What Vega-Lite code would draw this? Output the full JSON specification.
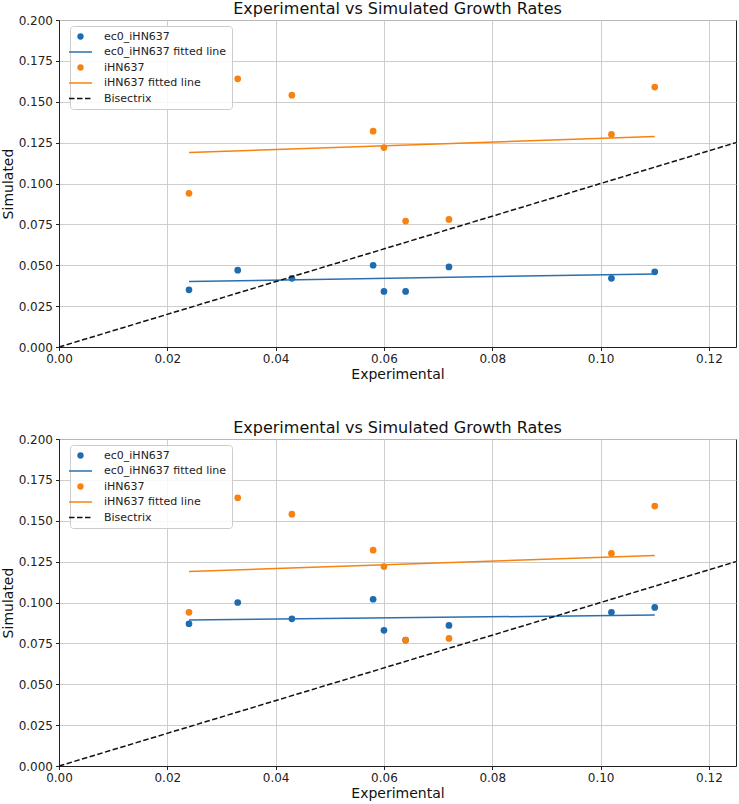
{
  "$schema": "https://vega.github.io/schema/vega-lite/v6.json",
  "padding": {"left": 0, "top": 0, "right": 2, "bottom": 0},
  "background": "white",
  "datasets": {
    "top_points": [
      {"exp": 0.024, "sim": 0.035, "series": "ec0_iHN637"},
      {"exp": 0.033, "sim": 0.047, "series": "ec0_iHN637"},
      {"exp": 0.043, "sim": 0.042, "series": "ec0_iHN637"},
      {"exp": 0.058, "sim": 0.050, "series": "ec0_iHN637"},
      {"exp": 0.060, "sim": 0.034, "series": "ec0_iHN637"},
      {"exp": 0.064, "sim": 0.034, "series": "ec0_iHN637"},
      {"exp": 0.072, "sim": 0.049, "series": "ec0_iHN637"},
      {"exp": 0.102, "sim": 0.042, "series": "ec0_iHN637"},
      {"exp": 0.110, "sim": 0.046, "series": "ec0_iHN637"},
      {"exp": 0.024, "sim": 0.094, "series": "iHN637"},
      {"exp": 0.033, "sim": 0.164, "series": "iHN637"},
      {"exp": 0.043, "sim": 0.154, "series": "iHN637"},
      {"exp": 0.058, "sim": 0.132, "series": "iHN637"},
      {"exp": 0.060, "sim": 0.122, "series": "iHN637"},
      {"exp": 0.064, "sim": 0.077, "series": "iHN637"},
      {"exp": 0.072, "sim": 0.078, "series": "iHN637"},
      {"exp": 0.102, "sim": 0.130, "series": "iHN637"},
      {"exp": 0.110, "sim": 0.159, "series": "iHN637"}
    ],
    "top_lines": [
      {"exp": 0.024, "sim": 0.0400, "series": "ec0_iHN637 fitted line"},
      {"exp": 0.110, "sim": 0.0447, "series": "ec0_iHN637 fitted line"},
      {"exp": 0.024, "sim": 0.1190, "series": "iHN637 fitted line"},
      {"exp": 0.110, "sim": 0.1287, "series": "iHN637 fitted line"}
    ],
    "bottom_points": [
      {"exp": 0.024, "sim": 0.087, "series": "ec0_iHN637"},
      {"exp": 0.033, "sim": 0.100, "series": "ec0_iHN637"},
      {"exp": 0.043, "sim": 0.090, "series": "ec0_iHN637"},
      {"exp": 0.058, "sim": 0.102, "series": "ec0_iHN637"},
      {"exp": 0.060, "sim": 0.083, "series": "ec0_iHN637"},
      {"exp": 0.064, "sim": 0.077, "series": "ec0_iHN637"},
      {"exp": 0.072, "sim": 0.086, "series": "ec0_iHN637"},
      {"exp": 0.102, "sim": 0.094, "series": "ec0_iHN637"},
      {"exp": 0.110, "sim": 0.097, "series": "ec0_iHN637"},
      {"exp": 0.024, "sim": 0.094, "series": "iHN637"},
      {"exp": 0.033, "sim": 0.164, "series": "iHN637"},
      {"exp": 0.043, "sim": 0.154, "series": "iHN637"},
      {"exp": 0.058, "sim": 0.132, "series": "iHN637"},
      {"exp": 0.060, "sim": 0.122, "series": "iHN637"},
      {"exp": 0.064, "sim": 0.077, "series": "iHN637"},
      {"exp": 0.072, "sim": 0.078, "series": "iHN637"},
      {"exp": 0.102, "sim": 0.130, "series": "iHN637"},
      {"exp": 0.110, "sim": 0.159, "series": "iHN637"}
    ],
    "bottom_lines": [
      {"exp": 0.024, "sim": 0.0893, "series": "ec0_iHN637 fitted line"},
      {"exp": 0.110, "sim": 0.0923, "series": "ec0_iHN637 fitted line"},
      {"exp": 0.024, "sim": 0.1190, "series": "iHN637 fitted line"},
      {"exp": 0.110, "sim": 0.1287, "series": "iHN637 fitted line"}
    ],
    "bisectrix": [
      {"exp": 0, "sim": 0, "series": "Bisectrix"},
      {"exp": 0.125, "sim": 0.125, "series": "Bisectrix"}
    ]
  },
  "config": {
    "font": "DejaVu Sans",
    "view": {"stroke": "#222222", "strokeWidth": 1},
    "title": {"fontSize": 16, "fontWeight": "normal", "color": "#111111", "offset": -3},
    "axis": {
      "labelFontSize": 12,
      "titleFontSize": 14,
      "titleFontWeight": "normal",
      "labelColor": "#222222",
      "titleColor": "#111111",
      "tickColor": "#222222",
      "domainColor": "#222222",
      "tickSize": 3.5,
      "labelPadding": 3,
      "titlePadding": 3,
      "labelFlush": false,
      "gridColor": "#c8c8c8",
      "gridWidth": 0.9
    },
    "concat": {"spacing": 37}
  },
  "resolve": {"scale": {"color": "independent"}},
  "vconcat": [
    {
      "title": "Experimental vs Simulated Growth Rates",
      "width": 677,
      "height": 327,
      "encoding": {
        "x": {
          "field": "exp", "type": "quantitative", "title": "Experimental",
          "scale": {"domain": [0, 0.125], "nice": false},
          "axis": {"values": [0, 0.02, 0.04, 0.06, 0.08, 0.1, 0.12], "format": ".2f"}
        },
        "y": {
          "field": "sim", "type": "quantitative", "title": "Simulated",
          "scale": {"domain": [0, 0.2], "nice": false},
          "axis": {"values": [0, 0.025, 0.05, 0.075, 0.1, 0.125, 0.15, 0.175, 0.2], "format": ".3f"}
        },
        "color": {
          "field": "series", "type": "nominal",
          "scale": {
            "domain": ["ec0_iHN637", "ec0_iHN637 fitted line", "iHN637", "iHN637 fitted line", "Bisectrix"],
            "range": ["#1f6bb0", "#2a70b0", "#f7820f", "#f7820f", "#111111"]
          },
          "legend": {
            "title": null,
            "orient": "none",
            "legendX": 11,
            "legendY": 6,
            "padding": 5,
            "fillColor": "rgba(255,255,255,0.85)",
            "strokeColor": "#cccccc",
            "cornerRadius": 3,
            "labelFontSize": 11,
            "labelColor": "#222222",
            "rowPadding": 3.5,
            "symbolSize": 529,
            "labelOffset": 18,
            "encode": {
              "symbols": {
                "update": {
                  "shape": {"signal": "(datum.value == 'ec0_iHN637' || datum.value == 'iHN637') ? 'circle' : 'stroke'"},
                  "size": {"signal": "(datum.value == 'ec0_iHN637' || datum.value == 'iHN637') ? 40 : 529"},
                  "fill": {"signal": "datum.value == 'ec0_iHN637' ? '#1f6bb0' : (datum.value == 'iHN637' ? '#f7820f' : 'transparent')"},
                  "stroke": {"signal": "datum.value == 'Bisectrix' ? '#111111' : (datum.value == 'ec0_iHN637 fitted line' ? '#2a70b0' : '#f7820f')"},
                  "strokeWidth": {"signal": "(datum.value == 'ec0_iHN637' || datum.value == 'iHN637') ? 0 : 1.5"},
                  "strokeDash": [{"test": "datum.value == 'Bisectrix'", "value": [5.5, 2.5]}],
                  "opacity": {"value": 1}
                }
              }
            }
          }
        }
      },
      "layer": [
        {
          "data": {"name": "top_points"},
          "mark": {"type": "circle", "size": 45, "opacity": 1}
        },
        {
          "data": {"name": "top_lines"},
          "mark": {"type": "line", "strokeWidth": 1.5}
        },
        {
          "data": {"name": "bisectrix"},
          "mark": {"type": "line", "strokeDash": [5.5, 2.5], "strokeWidth": 1.5}
        }
      ]
    },
    {
      "title": "Experimental vs Simulated Growth Rates",
      "width": 677,
      "height": 327,
      "encoding": {
        "x": {
          "field": "exp", "type": "quantitative", "title": "Experimental",
          "scale": {"domain": [0, 0.125], "nice": false},
          "axis": {"values": [0, 0.02, 0.04, 0.06, 0.08, 0.1, 0.12], "format": ".2f"}
        },
        "y": {
          "field": "sim", "type": "quantitative", "title": "Simulated",
          "scale": {"domain": [0, 0.2], "nice": false},
          "axis": {"values": [0, 0.025, 0.05, 0.075, 0.1, 0.125, 0.15, 0.175, 0.2], "format": ".3f"}
        },
        "color": {
          "field": "series", "type": "nominal",
          "scale": {
            "domain": ["ec0_iHN637", "ec0_iHN637 fitted line", "iHN637", "iHN637 fitted line", "Bisectrix"],
            "range": ["#1f6bb0", "#2a70b0", "#f7820f", "#f7820f", "#111111"]
          },
          "legend": {
            "title": null,
            "orient": "none",
            "legendX": 11,
            "legendY": 6,
            "padding": 5,
            "fillColor": "rgba(255,255,255,0.85)",
            "strokeColor": "#cccccc",
            "cornerRadius": 3,
            "labelFontSize": 11,
            "labelColor": "#222222",
            "rowPadding": 3.5,
            "symbolSize": 529,
            "labelOffset": 18,
            "encode": {
              "symbols": {
                "update": {
                  "shape": {"signal": "(datum.value == 'ec0_iHN637' || datum.value == 'iHN637') ? 'circle' : 'stroke'"},
                  "size": {"signal": "(datum.value == 'ec0_iHN637' || datum.value == 'iHN637') ? 40 : 529"},
                  "fill": {"signal": "datum.value == 'ec0_iHN637' ? '#1f6bb0' : (datum.value == 'iHN637' ? '#f7820f' : 'transparent')"},
                  "stroke": {"signal": "datum.value == 'Bisectrix' ? '#111111' : (datum.value == 'ec0_iHN637 fitted line' ? '#2a70b0' : '#f7820f')"},
                  "strokeWidth": {"signal": "(datum.value == 'ec0_iHN637' || datum.value == 'iHN637') ? 0 : 1.5"},
                  "strokeDash": [{"test": "datum.value == 'Bisectrix'", "value": [5.5, 2.5]}],
                  "opacity": {"value": 1}
                }
              }
            }
          }
        }
      },
      "layer": [
        {
          "data": {"name": "bottom_points"},
          "mark": {"type": "circle", "size": 45, "opacity": 1}
        },
        {
          "data": {"name": "bottom_lines"},
          "mark": {"type": "line", "strokeWidth": 1.5}
        },
        {
          "data": {"name": "bisectrix"},
          "mark": {"type": "line", "strokeDash": [5.5, 2.5], "strokeWidth": 1.5}
        }
      ]
    }
  ]
}
